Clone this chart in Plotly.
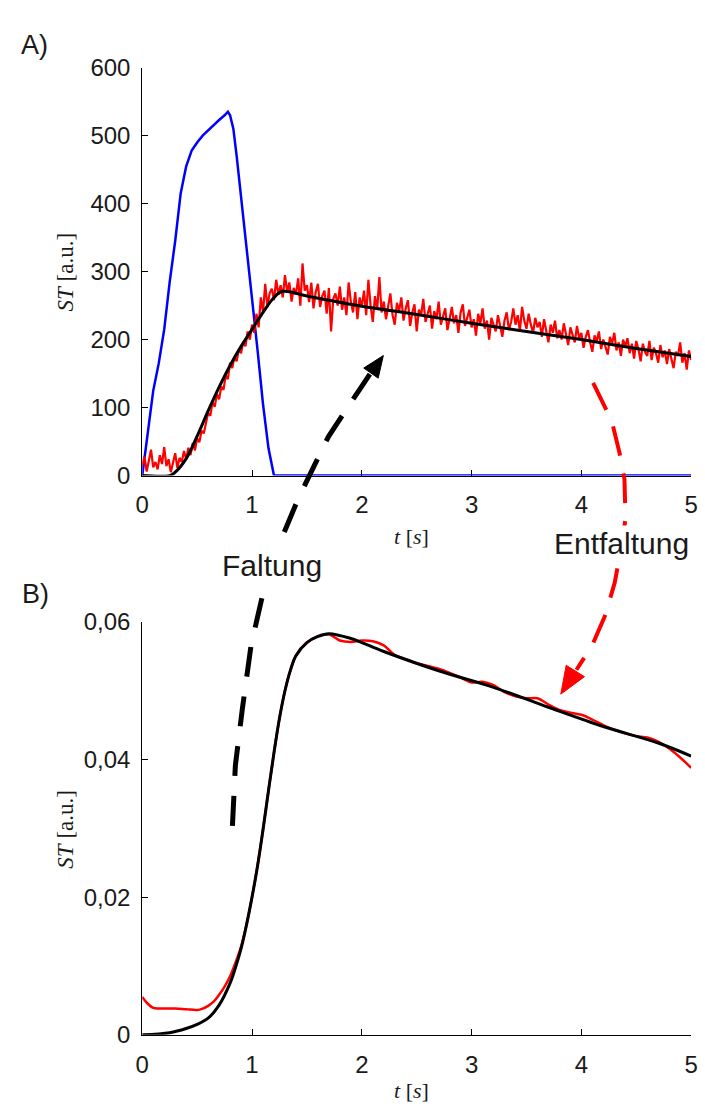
import math
import plotly.graph_objects as go

W, H = 705, 1117

# ---- Panel A: arterial input (blue), measured tissue curve (red), fit (black)
t_aif = [0, 0.05, 0.1, 0.15, 0.2, 0.25, 0.3, 0.35, 0.4, 0.45, 0.5, 0.55, 0.6, 0.65,
         0.7, 0.75, 0.78, 0.8, 0.83, 0.86, 0.9, 0.95, 1.0, 1.05, 1.1, 1.15, 1.2, 5.0]
st_aif = [0, 65, 125, 165, 215, 285, 345, 415, 455, 478, 490, 500, 508, 516,
          523, 530, 535, 530, 510, 470, 410, 345, 265, 185, 105, 40, 0, 0]

# measured curve, sampled every 0.02 s
t_meas = [round(0.02 * i, 2) for i in range(251)]
st_meas = [
    15, 28, 6, 22, 38, 12, 20, 9, 30, 17,
    42, 14, 24, 5, 19, 33, 11, 26, 20, 36,
    24, 41, 30, 48, 37, 55, 49, 66, 62, 80,
    92, 88, 108, 101, 120, 112, 131, 126, 147, 142,
    166, 158, 175, 168, 186, 180, 197, 190, 212, 200,
    222, 210, 238, 218, 262, 240, 282, 248, 268, 275,
    258, 288, 266, 280, 262, 295, 270, 284, 256, 276,
    266, 290, 250, 312, 272, 280, 255, 284, 246, 270,
    282, 248, 264, 272, 238, 276, 212, 260, 268, 250,
    278, 244, 262, 236, 284, 256, 240, 270, 230, 262,
    248, 272, 236, 288, 250, 226, 264, 244, 292, 240,
    256, 230, 248, 268, 236, 222, 254, 242, 262, 228,
    246, 258, 220, 240, 252, 212, 244, 236, 260, 226,
    238, 250, 216, 242, 230, 256, 222, 236, 246, 214,
    232, 248, 224, 236, 210, 240, 252, 220, 232, 244,
    218, 230, 206, 238, 224, 246, 216, 228, 200, 232,
    222, 212, 236, 218, 204, 228, 240, 214, 226, 246,
    222, 236, 212, 248, 228, 216, 238, 222, 210, 232,
    218, 226, 204, 230, 214, 196, 222, 210, 228, 202,
    214, 200, 224, 208, 192, 218, 206, 196, 220, 202,
    210, 188, 204, 214, 196, 182, 206, 198, 212, 186,
    200, 190, 178, 204, 194, 210, 184, 196, 176, 200,
    190, 202, 180, 194, 172, 198, 186, 168, 194, 182,
    176, 198, 170, 188, 180, 166, 192, 174, 184, 164,
    186, 172, 158, 182, 176, 196, 166, 180, 156, 184,
    170,
]

t_fit_a = [0, 0.25, 0.3, 0.4, 0.5, 0.6, 0.7, 0.8, 0.9, 1.0, 1.1, 1.2, 1.28, 1.5, 2.0,
           2.5, 3.0, 3.5, 4.0, 4.5, 5.0]
st_fit_a = [0, 0, 5, 25, 58, 95, 130, 162, 190, 215, 240, 262, 271, 264, 249,
            237, 224, 212, 200, 187, 175]

# ---- Panel B: deconvolved residue (red) and model (black)
t_dec = [0, 0.05, 0.1, 0.15, 0.2, 0.3, 0.4, 0.5, 0.55, 0.6, 0.65, 0.7, 0.75, 0.8, 0.85,
         0.9, 0.95, 1.0, 1.05, 1.1, 1.15, 1.2, 1.25, 1.3, 1.35, 1.4, 1.5, 1.6, 1.7, 1.8,
         1.9, 2.0, 2.1, 2.2, 2.3, 2.4, 2.5, 2.6, 2.7, 2.8, 2.9, 3.0, 3.1, 3.2, 3.3, 3.4,
         3.5, 3.6, 3.7, 3.8, 3.9, 4.0, 4.1, 4.2, 4.3, 4.4, 4.5, 4.6, 4.7, 4.8, 4.9, 5.0]
st_dec = [0.0055, 0.0045, 0.0039, 0.0038, 0.0038, 0.0038, 0.0037, 0.0036, 0.0038, 0.0042,
          0.0048, 0.0058, 0.0070, 0.0085, 0.0105, 0.0128, 0.0160, 0.0200, 0.0246, 0.0298,
          0.0355, 0.0410, 0.0460, 0.0500, 0.0530, 0.0551, 0.0570, 0.0579, 0.0582, 0.0573,
          0.0571, 0.0573, 0.0572, 0.0566, 0.0552, 0.0546, 0.0540, 0.0536, 0.0532, 0.0526,
          0.0519, 0.0512, 0.0513, 0.0508, 0.0498, 0.0492, 0.0489, 0.0489, 0.0480, 0.0472,
          0.0468, 0.0465, 0.0458, 0.0450, 0.0443, 0.0438, 0.0434, 0.0432, 0.0426, 0.0416,
          0.0403, 0.0388]

t_fit_b = [0, 0.25, 0.4, 0.5, 0.6, 0.7, 0.8, 0.85, 0.9, 0.95, 1.0, 1.05, 1.1, 1.15, 1.2,
           1.25, 1.3, 1.35, 1.4, 1.5, 1.6, 1.7, 1.9, 2.2, 2.7, 3.2, 3.7, 4.2, 4.7, 5.0]
st_fit_b = [0, 0.0003, 0.0009, 0.0015, 0.0024, 0.0043, 0.0075, 0.0098, 0.0125, 0.0160,
            0.0200, 0.0245, 0.0298, 0.0355, 0.0410, 0.0460, 0.0500, 0.0530, 0.0551,
            0.0570, 0.0579, 0.0583, 0.0576, 0.0557, 0.0529, 0.0505, 0.0476, 0.0448,
            0.0424, 0.0405]

x_ticks = [0, 1, 2, 3, 4, 5]
a_ticks = [0, 100, 200, 300, 400, 500, 600]
b_ticks = [0, 0.02, 0.04, 0.06]
b_ticktext = ["0", "0,02", "0,04", "0,06"]

BLUE, RED, BLACK = "#0000ff", "#ff0000", "#000000"
TXT = "#1a1a1a"
SANS = "Liberation Sans, Arial, sans-serif"
SERIF = "Liberation Serif, Times New Roman, serif"

fig = go.Figure()
fig.add_trace(go.Scatter(x=t_aif, y=st_aif, mode="lines", line=dict(color=BLUE, width=2.5),
                         xaxis="x", yaxis="y"))
fig.add_trace(go.Scatter(x=t_meas, y=st_meas, mode="lines", line=dict(color=RED, width=2.2),
                         xaxis="x", yaxis="y"))
fig.add_trace(go.Scatter(x=t_fit_a, y=st_fit_a, mode="lines", line_shape="spline",
                         line=dict(color=BLACK, width=3), xaxis="x", yaxis="y"))
fig.add_trace(go.Scatter(x=t_dec, y=st_dec, mode="lines", line_shape="spline",
                         line=dict(color=RED, width=2.5), xaxis="x2", yaxis="y2"))
fig.add_trace(go.Scatter(x=t_fit_b, y=st_fit_b, mode="lines", line_shape="spline",
                         line=dict(color=BLACK, width=3), xaxis="x2", yaxis="y2"))


def px(x):
    return x / W


def py(y):
    return 1 - y / H


xdom = [px(138), px(698)]
dom_a = [py(473), py(55)]
dom_b = [py(1046), py(623)]

axis_style = dict(showline=True, linecolor=BLACK, linewidth=1, ticks="inside", ticklen=6,
                  tickcolor=BLACK, showgrid=False, zeroline=False, layer="below traces",
                  tickfont=dict(family=SANS, size=24, color=TXT))

fig.update_layout(
    width=W, height=H, showlegend=False,
    margin=dict(l=0, r=0, t=0, b=0),
    paper_bgcolor="white", plot_bgcolor="white",
    xaxis=dict(domain=xdom, anchor="y", range=[0, 5], tickvals=x_ticks,
               ticklabelstandoff=8, **axis_style),
    yaxis=dict(domain=dom_a, anchor="x", range=[0, 600], tickvals=a_ticks,
               ticklabelstandoff=6, **axis_style),
    xaxis2=dict(domain=xdom, anchor="y2", range=[0, 5], tickvals=x_ticks,
                ticklabelstandoff=8, **axis_style),
    yaxis2=dict(domain=dom_b, anchor="x2", range=[0, 0.06], tickvals=b_ticks,
                ticktext=b_ticktext, ticklabelstandoff=6, **axis_style),
)


def label(text, x, y, size, family=SANS, angle=0, bg=None):
    fig.add_annotation(text=text, x=px(x), y=py(y), xref="paper", yref="paper",
                       showarrow=False, textangle=angle, bgcolor=bg,
                       font=dict(family=family, size=size, color=TXT),
                       xanchor="center", yanchor="middle")


label("A)", 28, 32, 27)
label("B)", 29, 594, 27)
label("<i>ST</i> [a.u.]", 60, 264, 23, SERIF, -90)
label("<i>ST</i> [a.u.]", 60, 835, 23, SERIF, -90)
label("<i>t</i>&nbsp;[<i>s</i>]", 413, 535, 22, SERIF)
label("<i>t</i>&nbsp;[<i>s</i>]", 413, 1103, 22, SERIF)


def poly_path(points):
    return "M " + " L ".join(f"{px(x):.5f},{py(y):.5f}" for x, y in points)


def head_path(tip, frm, length, half):
    dx, dy = tip[0] - frm[0], tip[1] - frm[1]
    n = math.hypot(dx, dy)
    ux, uy = dx / n, dy / n
    bx, by = tip[0] - length * ux, tip[1] - length * uy
    qx, qy = -uy, ux
    pts = [tip, (bx + half * qx, by + half * qy), (bx - half * qx, by - half * qy)]
    return poly_path(pts) + " Z"


# "Faltung" arrow: from panel B up into panel A
fold_pts = [(230, 832), (233, 770), (240, 713), (249, 647), (262, 590), (282, 533),
            (297, 497), (310, 470), (328, 433), (343, 410), (365, 377), (371, 368)]
fig.add_shape(type="path", path=poly_path(fold_pts), xref="paper", yref="paper",
              line=dict(color=BLACK, width=5, dash="30px,20px"))
fig.add_shape(type="path", path=head_path((384, 350), (365, 377), 22, 9),
              xref="paper", yref="paper", fillcolor=BLACK, line=dict(color=BLACK, width=1))

# "Entfaltung" arrow: from panel A down into panel B
unfold_pts = [(598, 378), (617, 417), (625, 450), (630, 477), (631, 517), (628, 540),
              (620, 583), (610, 617), (597, 647), (581, 672)]
fig.add_shape(type="path", path=poly_path(unfold_pts), xref="paper", yref="paper",
              line=dict(color=RED, width=4, dash="30px,18px"))
fig.add_shape(type="path", path=head_path((565, 697), (585, 665), 28, 11),
              xref="paper", yref="paper", fillcolor=RED, line=dict(color=RED, width=1))

label("Faltung", 270, 565, 30, bg="white")
label("Entfaltung", 627, 543, 30, bg="white")

fig.write_html("out.html")
